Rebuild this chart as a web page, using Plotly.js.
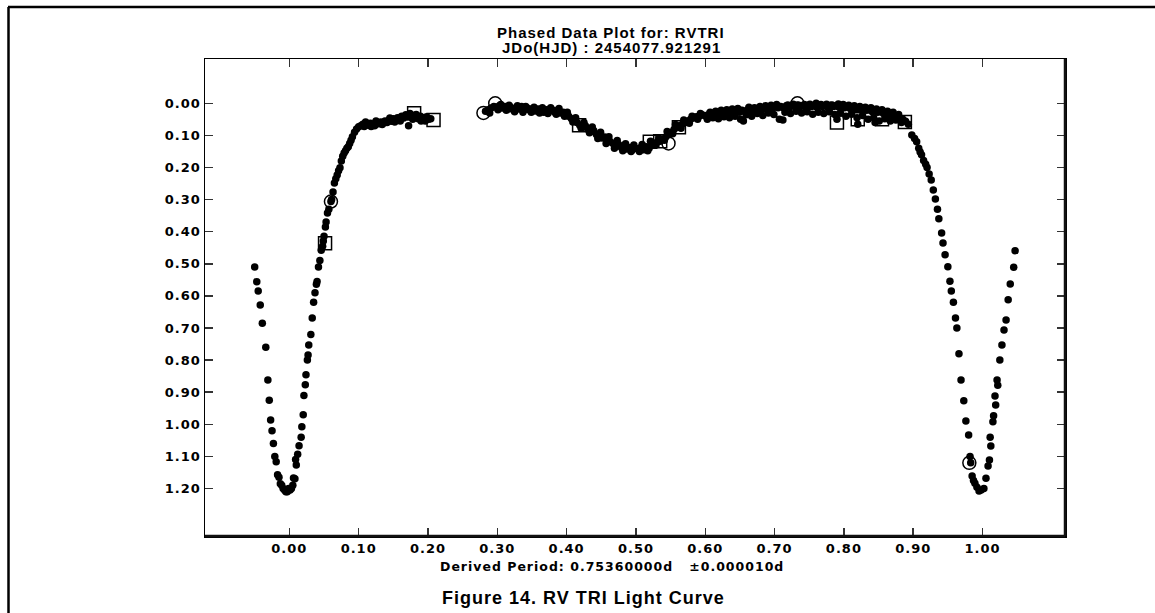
<!DOCTYPE html>
<html>
<head>
<meta charset="utf-8">
<script src="https://cdn.plot.ly/plotly-3.0.1.min.js"></script>
<style>
html,body{margin:0;padding:0;background:#fff;}
#chart{width:1155px;height:613px;}
.xtick text,.ytick text{letter-spacing:1px;}
.annotation-text{letter-spacing:1px;}
</style>
</head>
<body>
<div id="chart"></div>
<script>
// ---- data (phase, magnitude delta) ----
var eclipseLeftX = [-0.050,-0.047,-0.045,-0.042,-0.039,-0.034,-0.031,-0.029,-0.027,-0.025,-0.023,-0.021,-0.019,-0.017,-0.015,-0.013,-0.011,-0.009,-0.007,-0.005,-0.003,-0.001];
var eclipseLeftY = [0.51,0.556,0.585,0.628,0.685,0.76,0.862,0.925,0.987,1.02,1.06,1.10,1.117,1.157,1.165,1.185,1.19,1.20,1.205,1.21,1.21,1.20];

var riseX = [0.001,0.003,0.005,0.006,0.008,0.009,0.010,0.012,0.014,0.017,0.018,0.020,0.021,0.023,0.024,0.026,0.027,0.028,0.031,0.033,0.035,0.037,0.039,0.040,0.042,0.044,0.046,0.048,0.049,0.050,0.052,0.053,0.055,0.057,0.060,0.061,0.063,0.065,0.067,0.069,0.071,0.073,0.075,0.077,0.079,0.081,0.083,0.085,0.087,0.089,0.091,0.094,0.097,0.100];
var riseY = [1.205,1.20,1.19,1.167,1.17,1.11,1.127,1.093,1.067,1.04,1.008,0.97,0.91,0.877,0.846,0.80,0.784,0.753,0.72,0.669,0.62,0.59,0.564,0.555,0.51,0.49,0.458,0.445,0.429,0.414,0.385,0.37,0.342,0.33,0.306,0.30,0.276,0.248,0.235,0.223,0.21,0.201,0.18,0.165,0.155,0.148,0.14,0.135,0.125,0.115,0.104,0.09,0.08,0.073];

var shoulderX = [0.103,0.106,0.108,0.111,0.114,0.117,0.120,0.123,0.126,0.129,0.132,0.135,0.138,0.141,0.144,0.147,0.150,0.153,0.156,0.159,0.162,0.165,0.168,0.171,0.174,0.177,0.180,0.183,0.186,0.189,0.192,0.195,0.198,0.201,0.204,0.172,0.190,0.110,0.125,0.145,0.118,0.134,0.152,0.160,0.178,0.196];
var shoulderY = [0.07,0.065,0.072,0.064,0.068,0.062,0.066,0.07,0.06,0.064,0.058,0.062,0.055,0.06,0.052,0.056,0.048,0.052,0.045,0.05,0.04,0.046,0.036,0.042,0.032,0.045,0.038,0.035,0.048,0.04,0.044,0.05,0.042,0.05,0.048,0.07,0.055,0.058,0.055,0.046,0.072,0.066,0.058,0.055,0.05,0.055];

var secondaryX = [0.283,0.287,0.291,0.295,0.299,0.303,0.307,0.311,0.315,0.319,0.323,0.327,0.331,0.335,0.339,0.343,0.347,0.351,0.355,0.359,0.363,0.367,0.371,0.375,0.379,0.383,0.387,0.391,0.395,0.399,0.403,0.407,0.411,0.415,0.419,0.423,0.427,0.431,0.435,0.439,0.443,0.447,0.451,0.455,0.459,0.463,0.467,0.471,0.475,0.479,0.483,0.487,0.491,0.495,0.499,0.503,0.507,0.511,0.515,0.519,0.523,0.527,0.531,0.535,0.539,0.543,0.547,0.551,0.555,0.559,0.563,0.567,0.571,0.575,0.579,0.583,0.587,0.591,0.595,0.599];
var secondaryY = [0.025,0.02,0.015,0.01,0.012,0.008,0.015,0.01,0.018,0.012,0.02,0.014,0.018,0.01,0.02,0.015,0.022,0.016,0.024,0.018,0.022,0.028,0.02,0.025,0.02,0.028,0.022,0.03,0.028,0.035,0.04,0.048,0.052,0.06,0.068,0.075,0.07,0.082,0.088,0.085,0.097,0.10,0.108,0.105,0.115,0.12,0.125,0.13,0.128,0.138,0.135,0.142,0.138,0.145,0.14,0.142,0.138,0.145,0.135,0.14,0.128,0.125,0.12,0.118,0.112,0.105,0.098,0.09,0.082,0.075,0.07,0.065,0.06,0.055,0.05,0.045,0.042,0.04,0.036,0.038];
var secondary2X = [0.289,0.301,0.313,0.325,0.337,0.349,0.361,0.373,0.385,0.397,0.409,0.421,0.433,0.445,0.457,0.469,0.481,0.493,0.505,0.517,0.529,0.541,0.553,0.565,0.577,0.589];
var secondary2Y = [0.03,0.02,0.022,0.026,0.028,0.028,0.03,0.032,0.034,0.04,0.058,0.078,0.092,0.11,0.125,0.14,0.148,0.15,0.15,0.148,0.13,0.115,0.095,0.078,0.062,0.05];
var secondary3X = [0.305,0.317,0.329,0.341,0.353,0.365,0.377,0.389,0.401,0.413,0.425,0.437,0.449,0.461,0.473,0.485,0.497,0.509,0.521,0.533,0.545,0.557,0.569,0.581,0.593];
var secondary3Y = [0.004,0.006,0.008,0.01,0.012,0.014,0.014,0.016,0.028,0.045,0.06,0.074,0.09,0.104,0.116,0.126,0.13,0.128,0.118,0.108,0.088,0.066,0.052,0.04,0.032];

var maxX = [0.601,0.605,0.609,0.613,0.617,0.621,0.625,0.629,0.633,0.637,0.641,0.645,0.649,0.653,0.657,0.661,0.665,0.669,0.673,0.677,0.681,0.685,0.689,0.693,0.697,0.701,0.705,0.709,0.713,0.717,0.721,0.725,0.729,0.733,0.737,0.741,0.745,0.749,0.753,0.757,0.761,0.765,0.769,0.773,0.777,0.781,0.785,0.789,0.793,0.797,0.801,0.805,0.809,0.813,0.817,0.821,0.825,0.829,0.833,0.837,0.841,0.845,0.849,0.853,0.857,0.861,0.865,0.869,0.873,0.877,0.881,0.885,0.889,0.893];
var maxY = [0.04,0.035,0.038,0.03,0.034,0.03,0.036,0.028,0.032,0.025,0.03,0.024,0.028,0.022,0.026,0.02,0.025,0.018,0.022,0.016,0.02,0.015,0.018,0.012,0.016,0.01,0.014,0.01,0.015,0.008,0.012,0.008,0.01,0.005,0.01,0.008,0.012,0.006,0.01,0.008,0.012,0.006,0.01,0.008,0.012,0.006,0.01,0.008,0.012,0.01,0.014,0.01,0.016,0.012,0.018,0.014,0.02,0.016,0.022,0.02,0.026,0.022,0.028,0.025,0.032,0.03,0.035,0.033,0.04,0.042,0.048,0.05,0.056,0.065];
var max2X = [0.603,0.611,0.619,0.627,0.635,0.643,0.651,0.659,0.667,0.675,0.683,0.691,0.699,0.707,0.715,0.723,0.731,0.739,0.747,0.755,0.763,0.771,0.779,0.787,0.795,0.803,0.811,0.819,0.827,0.835,0.843,0.851,0.859,0.867,0.875,0.883,0.655,0.712,0.790,0.845,0.820,0.760,0.792];
var max2Y = [0.05,0.045,0.048,0.042,0.045,0.04,0.05,0.036,0.04,0.032,0.038,0.03,0.035,0.05,0.028,0.032,0.025,0.03,0.026,0.034,0.028,0.032,0.026,0.035,0.03,0.04,0.034,0.045,0.038,0.05,0.045,0.055,0.048,0.055,0.052,0.06,0.055,0.052,0.05,0.06,0.065,0.0,0.002];
var max3X = [0.607,0.615,0.623,0.631,0.639,0.647,0.663,0.671,0.679,0.687,0.695,0.703,0.719,0.727,0.735,0.743,0.751,0.767,0.775,0.783,0.799,0.807,0.815,0.823,0.831,0.839,0.847,0.855,0.863,0.871,0.879];
var max3Y = [0.028,0.025,0.022,0.02,0.018,0.016,0.012,0.014,0.01,0.008,0.006,0.004,0.005,0.003,0.006,0.004,0.003,0.004,0.003,0.005,0.004,0.006,0.008,0.01,0.012,0.014,0.018,0.02,0.025,0.028,0.035];

var fallX = [0.898,0.902,0.905,0.908,0.910,0.912,0.915,0.918,0.920,0.923,0.926,0.929,0.932,0.935,0.937,0.941,0.943,0.946,0.950,0.953,0.955,0.958,0.961,0.963,0.966,0.969,0.973,0.976,0.980,0.982,0.983,0.985,0.987,0.989,0.992,0.995,0.998];
var fallY = [0.099,0.11,0.12,0.14,0.152,0.16,0.178,0.19,0.20,0.22,0.239,0.27,0.298,0.33,0.36,0.404,0.435,0.472,0.509,0.554,0.585,0.62,0.669,0.70,0.78,0.862,0.927,0.99,1.033,1.10,1.12,1.161,1.175,1.184,1.196,1.208,1.205];

var rise2X = [1.002,1.005,1.008,1.010,1.011,1.012,1.015,1.016,1.018,1.019,1.021,1.022,1.025,1.028,1.031,1.034,1.037,1.040,1.045,1.047];
var rise2Y = [1.20,1.168,1.13,1.111,1.04,1.068,0.992,0.973,0.912,0.94,0.862,0.878,0.80,0.753,0.706,0.675,0.612,0.563,0.511,0.459];

var circX = [0.060,0.280,0.297,0.547,0.733,0.981];
var circY = [0.306,0.030,0.000,0.125,0.000,1.120];
var sqX = [0.0515,0.180,0.208,0.418,0.520,0.535,0.562,0.790,0.820,0.855,0.888];
var sqY = [0.436,0.031,0.052,0.068,0.120,0.118,0.075,0.060,0.050,0.050,0.058];

var xTicks = [0,0.1,0.2,0.3,0.4,0.5,0.6,0.7,0.8,0.9,1.0];
var yTicks = [0,0.1,0.2,0.3,0.4,0.5,0.6,0.7,0.8,0.9,1.0,1.1,1.2];

// ---- build ----
var dotsX = [].concat(eclipseLeftX, riseX, shoulderX, secondaryX, secondary2X, secondary3X, maxX, max2X, max3X, fallX, rise2X);
var dotsY = [].concat(eclipseLeftY, riseY, shoulderY, secondaryY, secondary2Y, secondary3Y, maxY, max2Y, max3Y, fallY, rise2Y);

var traces = [
  {x: dotsX, y: dotsY, type: 'scatter', mode: 'markers', hoverinfo: 'skip',
   marker: {color: '#000', size: 7.5, symbol: 'circle', line: {width: 0}}},
  {x: circX, y: circY, type: 'scatter', mode: 'markers', hoverinfo: 'skip',
   marker: {symbol: 'circle-open', size: 13, color: '#000', line: {width: 1.5, color: '#000'}}},
  {x: sqX, y: sqY, type: 'scatter', mode: 'markers', hoverinfo: 'skip',
   marker: {symbol: 'square-open', size: 13, color: '#000', line: {width: 1.5, color: '#000'}}}
];

var tickFont = {family: 'DejaVu Sans', size: 13, color: '#000', weight: 'bold'};
var L = 205, R = 1065, T = 59, B = 536;
function px(v){ return (v - L) / (R - L); }
function py(v){ return (B - v) / (B - T); }

var layout = {
  width: 1155, height: 613,
  margin: {l: L, r: 1155 - R, t: T, b: 613 - B, pad: 0},
  paper_bgcolor: '#fff', plot_bgcolor: '#fff',
  showlegend: false,
  xaxis: {range: [-0.1217, 1.119], tickvals: xTicks, tickformat: '.2f',
    ticks: 'inside', ticklen: 8, tickwidth: 1.5, tickcolor: '#333',
    showline: true, linecolor: '#000', linewidth: 1.5, mirror: 'ticks',
    showgrid: false, zeroline: false, tickfont: tickFont, ticklabelstandoff: 0},
  yaxis: {range: [1.348, -0.138], tickvals: yTicks, tickformat: '.2f',
    ticks: 'inside', ticklen: 8, tickwidth: 1.5, tickcolor: '#333',
    showline: true, linecolor: '#000', linewidth: 1.5, mirror: 'ticks',
    showgrid: false, zeroline: false, tickfont: tickFont, ticklabelstandoff: 0},
  shapes: [
    {type: 'line', xref: 'paper', yref: 'paper', x0: px(8), x1: px(1200), y0: py(7), y1: py(7), line: {color: '#000', width: 2.5}},
    {type: 'line', xref: 'paper', yref: 'paper', x0: px(8.5), x1: px(8.5), y0: py(7), y1: py(700), line: {color: '#000', width: 2.5}},
    {type: 'line', xref: 'paper', yref: 'paper', x0: 0, x1: 1, y0: 0, y1: 0, line: {color: '#111', width: 2.5}},
    {type: 'line', xref: 'paper', yref: 'paper', x0: 1, x1: 1, y0: 0, y1: 1, line: {color: '#111', width: 2.5}}
  ],
  annotations: [
    {text: 'Phased Data Plot for: RVTRI', xref: 'paper', yref: 'paper', x: px(611), y: py(32), xanchor: 'center', yanchor: 'middle', showarrow: false,
     font: {family: 'Liberation Sans', size: 15, color: '#000', weight: 'bold'}},
    {text: 'JDo(HJD) : 2454077.921291', xref: 'paper', yref: 'paper', x: px(611), y: py(48), xanchor: 'center', yanchor: 'middle', showarrow: false,
     font: {family: 'Liberation Sans', size: 15, color: '#000', weight: 'bold'}},
    {text: 'Derived Period: 0.75360000d &nbsp;&nbsp;±0.000010d', xref: 'paper', yref: 'paper', x: px(612), y: py(566), xanchor: 'center', yanchor: 'middle', showarrow: false,
     font: {family: 'DejaVu Sans', size: 12.5, color: '#000', weight: 'bold'}},
    {text: 'Figure 14. RV TRI Light Curve', xref: 'paper', yref: 'paper', x: px(583), y: py(598), xanchor: 'center', yanchor: 'middle', showarrow: false,
     font: {family: 'Liberation Sans', size: 18, color: '#000', weight: 'bold'}}
  ]
};

Plotly.newPlot('chart', traces, layout, {displayModeBar: false, staticPlot: true});
</script>
</body>
</html>
